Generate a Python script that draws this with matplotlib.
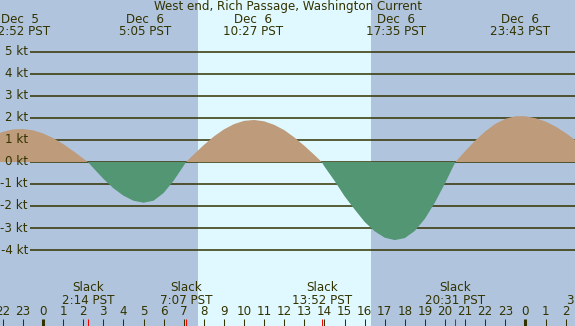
import numpy as np
import matplotlib
matplotlib.use('Agg')
import matplotlib.pyplot as plt

# ---------------- data ----------------
title = 'West end, Rich Passage, Washington Current'

# current speed (kt), sampled every half hour, hours from Dec 6 00:00
sample_hours = np.arange(-2.5, 26.51, 0.5)
speed = [1.19, 1.37, 1.48, 1.50, 1.44, 1.30, 1.09, 0.82, 0.50, 0.16,
         -0.27, -0.76, -1.19, -1.53, -1.76, -1.85, -1.76, -1.41, -0.85, -0.17,
         0.34, 0.77, 1.16, 1.48, 1.72, 1.87, 1.91, 1.85, 1.69, 1.45,
         1.12, 0.74, 0.32, -0.20, -0.85, -1.55, -2.15, -2.72, -3.15, -3.44,
         -3.55, -3.46, -3.13, -2.58, -1.84, -0.97, -0.03, 0.49, 0.97, 1.39,
         1.73, 1.96, 2.08, 2.08, 1.99, 1.84, 1.61, 1.32, 0.98]

# max flood / max ebb labels (top)
peak_days = [5, 6, 6, 6, 6]
peak_times = ['22:52', '5:05', '10:27', '17:35', '23:43']

# slack water (bottom)
slack_days = [6, 6, 6, 6, 7]
slack_times = ['2:14', '7:07', '13:52', '20:31', '3:24']

sunrise = '7:43'
sunset = '16:19'

kt_levels = [5, 4, 3, 2, 1, 0, -1, -2, -3, -4]

# ---------------- helpers ----------------
W, H = 575, 326
px_per_hour = 20.1
x0_px = 43          # Dec 6 00:00
zero_px = 162       # 0 kt
px_per_kt = 22
fs = 8.6


def to_hours(day, hhmm):
    h, m = hhmm.split(':')
    return (day - 6) * 24 + int(h) + int(m) / 60


def yfrac(ypix):
    return 1 - ypix / H


night = '#b0c4de'
day = '#e0f8ff'
flood = '#bd9b7b'
ebb = '#529673'
ink = '#333300'

plt.rcParams['font.family'] = ['DejaVu Sans']

fig = plt.figure(figsize=(W / 100, H / 100), dpi=100)
ax = fig.add_axes([0, 0, 1, 1])
ax.set_axis_off()

xmin = -x0_px / px_per_hour
xmax = (W - x0_px) / px_per_hour
ax.set_xlim(xmin, xmax)
ax.set_ylim(-(H - zero_px) / px_per_kt, zero_px / px_per_kt)

# day / night background
t_rise = to_hours(6, sunrise)
t_set = to_hours(6, sunset)
ax.axvspan(xmin, t_rise, color=night, zorder=0, lw=0)
ax.axvspan(t_rise, t_set, color=day, zorder=0, lw=0)
ax.axvspan(t_set, xmax, color=night, zorder=0, lw=0)

# gridlines with labels
grid_start = (30 - x0_px) / px_per_hour
label_x = (28 - x0_px) / px_per_hour
for k in kt_levels:
    ax.hlines(k, grid_start, xmax, color=ink, lw=1.1, zorder=1)
    ax.text(label_x, k, f'{k} kt', ha='right', va='center',
            fontsize=fs, color=ink)

# current curve, slack points merged in
slack_h = [to_hours(d, t) for d, t in zip(slack_days, slack_times)]
t = np.concatenate([sample_hours, slack_h])
v = np.concatenate([np.array(speed), np.zeros(len(slack_h))])
order = np.argsort(t)
t, v = t[order], v[order]
ax.fill_between(t, v, 0, where=v >= 0, interpolate=True,
                color=flood, lw=0, zorder=2)
ax.fill_between(t, v, 0, where=v <= 0, interpolate=True,
                color=ebb, lw=0, zorder=2)

# title and top labels
ax.text(0.5, yfrac(6.7), title, transform=ax.transAxes,
        ha='center', va='center', fontsize=fs, color=ink)
xt = ax.get_xaxis_transform()
for d, tm in zip(peak_days, peak_times):
    h = to_hours(d, tm)
    ax.text(h, yfrac(19.3), f'Dec  {d}', transform=xt, ha='center',
            va='center', fontsize=fs, color=ink)
    ax.text(h, yfrac(31.7), f'{tm} PST', transform=xt, ha='center',
            va='center', fontsize=fs, color=ink)

# slack labels
for h, tm in zip(slack_h, slack_times):
    ax.text(h, yfrac(287.3), 'Slack', transform=xt, ha='center',
            va='center', fontsize=fs, color=ink)
    ax.text(h, yfrac(300), f'{tm} PST', transform=xt, ha='center',
            va='center', fontsize=fs, color=ink)

# hour ticks and labels
hours = np.arange(-2, 27)
for h in hours:
    ax.text(h, yfrac(311.7), str(h % 24), transform=xt, ha='center',
            va='center', fontsize=fs, color=ink)
    lw = 2.2 if h % 24 == 0 else 0.75
    ax.vlines(h, yfrac(H), yfrac(319), transform=xt, color=ink,
              lw=lw, zorder=3)
ax.vlines(slack_h, yfrac(H), yfrac(319), transform=xt, color='red',
          lw=0.75, zorder=3)

fig.savefig('out.png', dpi=100)
